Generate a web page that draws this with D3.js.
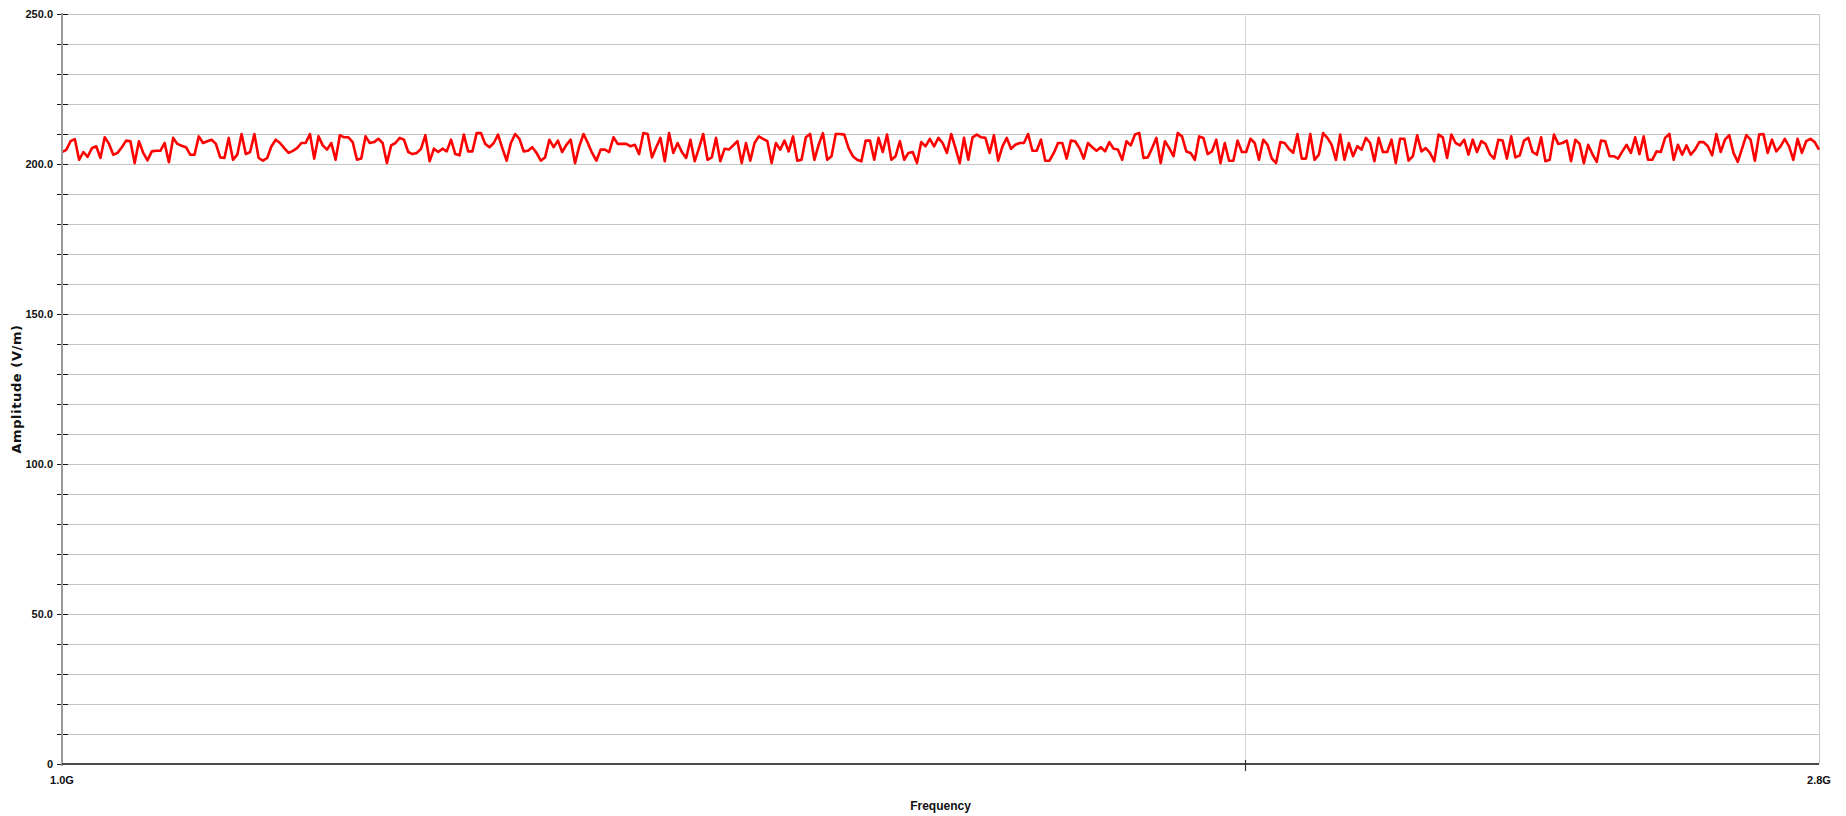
<!DOCTYPE html>
<html>
<head>
<meta charset="utf-8">
<script src="https://cdn.jsdelivr.net/npm/d3@7"></script>
<style>
  html, body { margin: 0; padding: 0; background: #ffffff; }
  svg { display: block; }
</style>
</head>
<body>
<svg id="chart" width="1846" height="816"></svg>
<script>
// ---- Data ----
const sweepStartHz = 1.0e9;
const sweepStopHz = 2.8e9;
const yTickValues = [0, 10, 20, 30, 40, 50, 60, 70, 80, 90, 100, 110, 120, 130, 140, 150, 160, 170, 180, 190, 200, 210, 220, 230, 240, 250];
const yTickLabels = ["0", "50.0", "100.0", "150.0", "200.0", "250.0"];
const xTickValues = [1.0e9, 2.0e9, 2.8e9];
const xTickLabels = ["1.0G", "", "2.8G"];
const yTitle = "Amplitude (V/m)";
const xTitle = "Frequency";

const amplitudeVm = [
  204.0, 204.7, 207.6, 208.3, 201.4, 204.0, 202.4, 205.3, 205.9, 202.0,
  208.9, 206.7, 203.1, 203.7, 205.6, 207.8, 207.6, 200.3, 207.6, 203.7,
  201.2, 204.2, 204.4, 204.4, 207.0, 200.6, 208.7, 206.7, 206.1, 205.6,
  203.1, 203.1, 209.2, 207.0, 207.6, 208.1, 206.7, 202.2, 202.0, 208.7,
  201.4, 203.1, 210.0, 203.3, 204.0, 210.0, 202.0, 201.1, 202.0, 205.9,
  208.1, 207.0, 205.3, 203.7, 204.4, 205.3, 207.0, 207.0, 210.0, 201.8,
  209.2, 206.2, 204.8, 207.0, 201.4, 209.6, 208.9, 208.9, 207.3, 201.4,
  201.8, 209.2, 207.0, 207.3, 208.4, 207.0, 200.3, 206.2, 207.0, 208.7,
  208.1, 204.0, 203.3,
  203.7, 205.1, 209.6, 200.9, 205.1, 204.0, 205.1, 204.2, 208.1, 203.3,
  202.9, 209.8, 204.2, 204.2, 210.3, 210.3, 206.7, 205.6, 207.0, 209.8,
  205.3, 201.1, 207.0, 210.0, 208.4, 204.2, 204.4, 205.6, 203.7, 201.1,
  202.2, 208.1, 205.6, 207.8, 204.0, 206.4, 208.1, 200.3, 205.9, 210.0,
  207.0, 203.7, 201.1, 204.8, 204.8, 204.0, 208.9, 206.7, 206.7, 206.7,
  205.9, 206.4, 203.3, 210.3, 210.0, 202.2, 205.6, 208.7, 200.9, 210.3,
  203.7, 207.0, 204.0, 202.0, 208.1, 200.9, 205.3, 210.0, 201.4, 202.2,
  208.7, 200.9, 205.1, 204.8, 206.2, 207.6, 200.3, 207.0, 201.1, 207.0,
  209.2, 208.4,
  207.6, 200.3, 207.0, 204.8, 207.8, 204.2, 209.2, 201.1, 201.4, 208.9,
  210.0, 201.4, 206.4, 210.3, 201.4, 202.6, 210.0, 210.0, 209.8, 205.3,
  202.6, 201.4, 200.9, 207.8, 207.8, 201.4, 208.7, 204.0, 209.8, 201.4,
  202.6, 207.6, 201.4, 203.7, 204.0, 200.3, 207.3, 205.9, 208.4, 205.9,
  208.7, 207.0, 203.7, 210.0, 205.3, 200.3, 208.7, 201.4, 208.9, 209.8,
  208.9, 208.7, 203.7, 209.6, 201.1, 205.9, 208.7, 205.1, 206.4, 207.0,
  207.0, 210.0, 204.4, 204.4, 208.1, 201.1, 201.1, 203.7, 207.0, 207.0,
  201.8, 207.8, 207.6, 205.3, 201.8, 207.0, 205.6, 204.4, 205.6, 204.2,
  207.3, 205.1,
  204.8, 201.4, 207.6, 206.2, 209.8, 210.3, 202.0, 202.2, 205.3, 208.7,
  200.3, 207.6, 205.3, 202.6, 210.3, 209.2, 204.2, 203.7, 201.4, 209.2,
  208.7, 203.3, 204.2, 208.1, 200.3, 207.0, 201.1, 201.1, 207.8, 204.0,
  204.0, 208.4, 207.0, 201.4, 208.1, 206.4, 201.8, 200.3, 207.3, 207.0,
  205.1, 203.7, 210.0, 201.8, 201.8, 210.0, 201.4, 203.1, 210.3, 208.7,
  206.4, 201.4, 209.8, 201.4, 207.0, 202.6, 205.9, 204.8, 208.7, 207.0,
  200.9, 208.7, 204.0, 204.0, 208.1, 200.3, 208.4, 208.4, 201.1, 202.6,
  209.6, 204.2, 205.3, 203.7, 200.9, 209.8, 208.9, 202.0, 209.8, 207.0,
  206.2, 208.1,
  203.1, 208.1, 204.0, 207.6, 206.7, 203.3, 201.8, 208.1, 207.8, 201.8,
  209.2, 202.2, 202.9, 207.8, 208.7, 204.0, 203.1, 208.9, 200.9, 201.4,
  209.8, 206.7, 207.0, 207.8, 200.9, 208.1, 206.7, 200.3, 206.4, 203.3,
  200.7, 207.8, 207.6, 202.6, 202.6, 201.8, 204.2, 206.4, 203.7, 208.9,
  203.3, 209.2, 201.4, 201.4, 204.2, 204.0, 208.7, 210.0, 201.4, 206.4,
  203.1, 206.2, 203.1, 204.8, 207.3, 207.3, 205.9, 202.9, 210.0, 204.0,
  208.1, 209.6, 203.7, 200.7, 205.1, 209.6, 208.1, 201.1, 209.8, 210.0,
  203.7, 208.1, 204.2, 205.9, 208.4, 205.9, 201.4, 208.4, 203.7, 207.6,
  208.4, 207.3, 204.8
];

// Log-spaced sweep grid (points are evenly spaced on the log frequency axis)
const n = amplitudeVm.length;
const data = amplitudeVm.map((v, i) => ({
  f: sweepStartHz * Math.pow(sweepStopHz / sweepStartHz, i / (n - 1)),
  v: v
}));

// ---- Layout ----
const W = 1846, H = 816;
const margin = { top: 14, right: 27, bottom: 52, left: 62 };
const x0 = margin.left, x1 = W - margin.right;
const y0 = H - margin.bottom, y1 = margin.top;

const svg = d3.select("#chart");
const x = d3.scaleLog().domain([sweepStartHz, sweepStopHz]).range([x0, x1]);
const y = d3.scaleLinear().domain([0, 250]).range([y0, y1]);

const tickFont = "'Liberation Sans Narrow', 'Arial Narrow', 'Liberation Sans', Arial, sans-serif";

// Horizontal gridlines
svg.append("g")
  .selectAll("line")
  .data(yTickValues.filter(d => d > 0))
  .join("line")
  .attr("x1", x0).attr("x2", x1)
  .attr("y1", d => Math.round(y(d)) + 0.5).attr("y2", d => Math.round(y(d)) + 0.5)
  .attr("stroke", "#c4c4c4").attr("stroke-width", 1);

// Vertical gridline at 2.0G
svg.append("g")
  .selectAll("line")
  .data(xTickValues.filter((d, i) => xTickLabels[i] === ""))
  .join("line")
  .attr("x1", d => Math.round(x(d)) + 0.5).attr("x2", d => Math.round(x(d)) + 0.5)
  .attr("y1", y1).attr("y2", y0)
  .attr("stroke", "#d4d4d4").attr("stroke-width", 1);

// Right border
svg.append("line")
  .attr("x1", x1 + 0.5).attr("x2", x1 + 0.5)
  .attr("y1", y1).attr("y2", y0)
  .attr("stroke", "#c8c8c8").attr("stroke-width", 1);

// Data line
const line = d3.line().x(d => x(d.f)).y(d => y(d.v));
svg.append("path")
  .datum(data)
  .attr("d", line)
  .attr("fill", "none")
  .attr("stroke", "#ff0000")
  .attr("stroke-width", 2.6)
  .attr("stroke-linejoin", "round");

// Left axis
const yAxis = d3.axisLeft(y)
  .tickValues(yTickValues)
  .tickSize(5)
  .tickPadding(4)
  .tickFormat(d => (d % 50 === 0 ? yTickLabels[d / 50] : ""));
const gy = svg.append("g").attr("transform", `translate(${x0},0)`).call(yAxis);
gy.select(".domain").remove();
gy.selectAll(".tick line").attr("x1", 6).attr("x2", -5).attr("stroke", "#1a1a1a").attr("stroke-width", 1);
gy.selectAll(".tick text")
  .attr("font-family", tickFont).attr("font-size", 11).attr("font-weight", "bold").attr("fill", "#111");
svg.append("line")
  .attr("x1", x0).attr("x2", x0)
  .attr("y1", y1 - 1).attr("y2", y0 + 2)
  .attr("stroke", "#9a9a9a").attr("stroke-width", 2);

// Bottom axis
svg.append("line")
  .attr("x1", x0).attr("x2", x1)
  .attr("y1", y0).attr("y2", y0)
  .attr("stroke", "#4a4a4a").attr("stroke-width", 2);
const gx = svg.append("g");
gx.selectAll("line.xt")
  .data(xTickValues.filter((d, i) => xTickLabels[i] === ""))
  .join("line")
  .attr("class", "xt")
  .attr("x1", d => Math.round(x(d)) + 0.5).attr("x2", d => Math.round(x(d)) + 0.5)
  .attr("y1", y0 - 4).attr("y2", y0 + 7)
  .attr("stroke", "#333").attr("stroke-width", 1.2);
gx.selectAll("text")
  .data(xTickValues.map((d, i) => ({ d, label: xTickLabels[i] })).filter(o => o.label))
  .join("text")
  .attr("x", o => x(o.d)).attr("y", y0 + 20)
  .attr("text-anchor", "middle")
  .attr("font-family", tickFont).attr("font-size", 11).attr("font-weight", "bold").attr("fill", "#111")
  .text(o => o.label);

// Titles
svg.append("text")
  .attr("transform", `translate(21,${(y0 + y1) / 2}) rotate(-90)`)
  .attr("text-anchor", "middle")
  .attr("font-family", "'DejaVu Sans', Verdana, sans-serif")
  .attr("font-size", 13).attr("font-weight", "bold").attr("letter-spacing", 0.6)
  .attr("fill", "#111")
  .text(yTitle);

svg.append("text")
  .attr("x", (x0 + x1) / 2).attr("y", 810)
  .attr("text-anchor", "middle")
  .attr("font-family", "'Liberation Sans', Arial, sans-serif")
  .attr("font-size", 12).attr("font-weight", "bold")
  .attr("fill", "#111")
  .text(xTitle);
</script>
</body>
</html>
